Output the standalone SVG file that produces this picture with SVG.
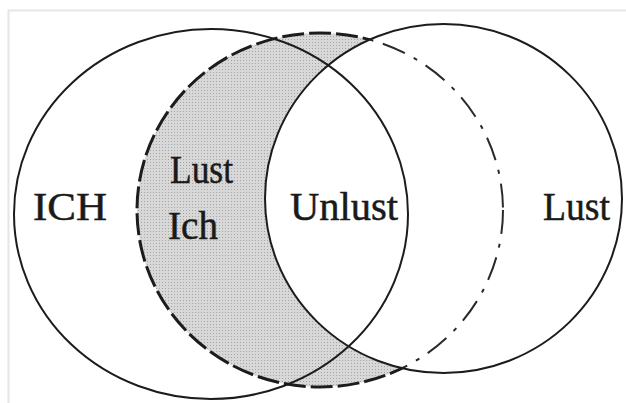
<svg xmlns="http://www.w3.org/2000/svg" width="626" height="403" viewBox="0 0 626 403">
<style>
.solid{fill:none;stroke:#1c1c1c;stroke-width:2}
.heavy{fill:none;stroke:#1c1c1c;stroke-width:3;stroke-dasharray:22 5}
.light{fill:none;stroke:#2a2a2a;stroke-width:2;stroke-dasharray:24 10 4 10}
.lbl{font-family:"Liberation Serif","Times New Roman",serif;font-size:40px;fill:#1a1a1a;stroke:#1a1a1a;stroke-width:0.5}
</style>
<defs>
<pattern id="dots" width="3" height="3" patternUnits="userSpaceOnUse">
<rect width="3" height="3" fill="#d8d8d8"/>
<rect width="1" height="1" fill="#a4a4a4"/>
</pattern>
<clipPath id="outsideRight">
<path clip-rule="evenodd" d="M0 0H626V403H0Z M265 198.5 A178.5 174.5 0 1 0 622 198.5 A178.5 174.5 0 1 0 265 198.5Z"/>
</clipPath>
<clipPath id="insideRight">
<ellipse cx="443.5" cy="198.5" rx="178.5" ry="174.5"/>
</clipPath>
</defs>
<rect width="626" height="403" fill="#ffffff"/>
<path d="M8.5 403V10.5H626" fill="none" stroke="#e6e6e6" stroke-width="2"/>
<g id="node-lust-ich">
<ellipse cx="320" cy="210" rx="183" ry="177" fill="url(#dots)" clip-path="url(#outsideRight)"/>
<ellipse class="heavy" cx="320" cy="210" rx="183" ry="177" clip-path="url(#outsideRight)"/>
<ellipse class="light" cx="320" cy="210" rx="183" ry="177" clip-path="url(#insideRight)"/>
<text class="lbl" x="170" y="183" textLength="63" lengthAdjust="spacingAndGlyphs">Lust</text>
<text class="lbl" x="168" y="239" textLength="50" lengthAdjust="spacingAndGlyphs">Ich</text>
</g>
<g id="node-ich">
<ellipse class="solid" cx="211" cy="214" rx="197" ry="185"/>
<text class="lbl" x="33" y="220" textLength="74" lengthAdjust="spacingAndGlyphs">ICH</text>
</g>
<g id="node-lust">
<ellipse class="solid" cx="443.5" cy="198.5" rx="178.5" ry="174.5"/>
<text class="lbl" x="543" y="220" textLength="67" lengthAdjust="spacingAndGlyphs">Lust</text>
</g>
<g id="node-unlust">
<text class="lbl" x="290" y="220" textLength="108" lengthAdjust="spacingAndGlyphs">Unlust</text>
</g>
<g id="connectors"/>
</svg>
